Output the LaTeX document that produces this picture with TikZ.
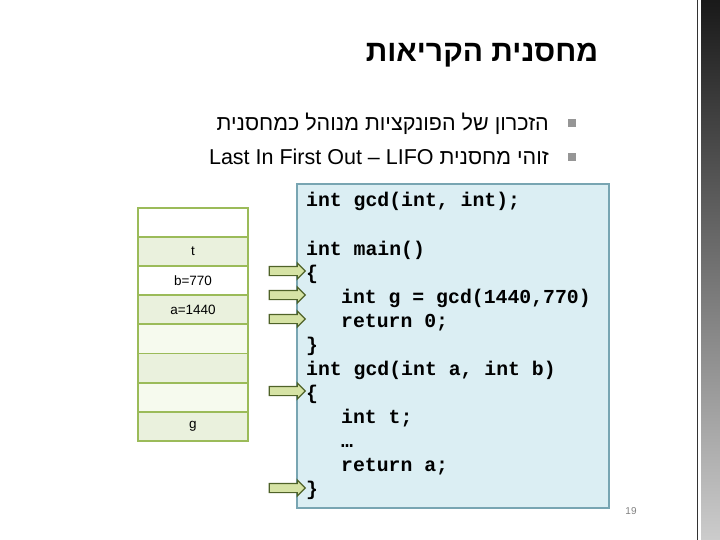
\documentclass[tikz,border=0pt]{standalone}
\usepackage{fontspec}
\setmainfont{Liberation Sans}
\newfontfamily\hebfont[Script=Hebrew]{Liberation Sans}
\newfontfamily\codefont{Liberation Mono}
\TeXXeTstate=1
\usetikzlibrary{positioning,shapes.arrows}
\definecolor{cellline}{RGB}{155,187,89}
\definecolor{cellgreen}{RGB}{234,241,221}
\definecolor{celllight}{RGB}{246,250,238}
\definecolor{codefill}{RGB}{219,238,243}
\definecolor{codeedge}{RGB}{120,165,178}
\definecolor{ptrfill}{RGB}{214,227,165}
\definecolor{ptredge}{RGB}{79,98,40}
\definecolor{bulletgray}{RGB}{150,150,150}
\tikzset{
  cellnode/.style  = {rectangle, minimum width=110pt, minimum height=29pt, inner sep=0pt,
                      draw=cellline, line width=1.8pt, font=\fontsize{13.5}{16}\selectfont},
  codebox/.style   = {rectangle, minimum width=312pt, minimum height=324pt, inner sep=0pt,
                      fill=codefill, draw=codeedge, line width=1.2pt},
  codeln/.style    = {anchor=base west, inner sep=0pt,
                      font=\codefont\bfseries\fontsize{19.8}{24}\selectfont},
  ptrarrow/.style  = {single arrow, single arrow head extend=3.5pt, single arrow head indent=0pt,
                      minimum width=15pt, minimum height=36pt, inner xsep=0pt, inner ysep=4pt,
                      fill=ptrfill, draw=ptredge, line width=1.2pt},
  bulletsq/.style  = {rectangle, minimum size=8pt, inner sep=0pt, fill=bulletgray},
  bullettxt/.style = {anchor=east, inner sep=0pt, font=\hebfont\fontsize{21.5}{24}\selectfont}
}

\begin{document}
\begin{tikzpicture}[x=1pt, y=-1pt]
  \useasboundingbox (0,0) rectangle (720,540);
  % ---- title ----
  \node[font=\hebfont\bfseries\fontsize{30}{34}\selectfont] (title) at (482,55)
       {\beginR מחסנית הקריאות\endR};
  % ---- bullets ----
  \node[bulletsq] (bu1) at (572,123) {};
  \node[bulletsq] (bu2) at (572,157) {};
  \node[bullettxt] (tx1) at (549,124) {\beginR הזכרון של הפונקציות מנוהל כמחסנית\endR};
  \node[bullettxt] (tx2) at (549,157) {\beginR זוהי מחסנית \beginL Last In First Out – LIFO\endL\endR};
  % ---- stack cells ----
  \node[cellnode, fill=white]     (c0) at (193,222.5) {};
  \node[cellnode, fill=cellgreen] (c1) at (193,251.6) {t};
  \node[cellnode, fill=white]     (c2) at (193,280.7) {b=770};
  \node[cellnode, fill=cellgreen] (c3) at (193,309.8) {a=1440};
  \node[cellnode, fill=celllight] (c4) at (193,338.9) {};
  \node[cellnode, fill=cellgreen] (c5) at (193,368.0) {};
  \node[cellnode, fill=celllight] (c6) at (193,397.1) {};
  \node[cellnode, fill=cellgreen] (c7) at (193,426.2) {g};
  % ---- code ----
  \node[codebox] (code) at (453,346) {};
  \node[codeln] (l1)  at (306,207) {int gcd(int, int);};
  \node[codeln] (l2)  at (306,255) {int main()};
  \node[codeln] (l3)  at (306,279) {\{};
  \node[codeln] (l4)  at (341,303) {int g = gcd(1440,770)};
  \node[codeln] (l5)  at (341,327) {return 0;};
  \node[codeln] (l6)  at (306,351) {\}};
  \node[codeln] (l7)  at (306,375) {int gcd(int a, int b)};
  \node[codeln] (l8)  at (306,399) {\{};
  \node[codeln] (l9)  at (341,423) {int t;};
  \node[codeln] (l10) at (341,447) {…};
  \node[codeln] (l11) at (341,471) {return a;};
  \node[codeln] (l12) at (306,495) {\}};
  % ---- pointers ----
  \node[ptrarrow] (p1) at (285,271) {};
  \node[ptrarrow] (p2) at (285,295) {};
  \node[ptrarrow] (p3) at (285,319) {};
  \node[ptrarrow] (p4) at (285,391) {};
  \node[ptrarrow] (p5) at (285,488) {};
  % ---- page number ----
  \node[font=\fontsize{10}{12}\selectfont, text=gray] (pg) at (631,511) {19};
  % ---- side strip ----
  \draw[line width=1.5pt, black!80] (697.5,0) -- (697.5,540);
  \shade[top color=black!90, bottom color=gray!40] (701,0) rectangle (720,540);
\end{tikzpicture}
\end{document}
